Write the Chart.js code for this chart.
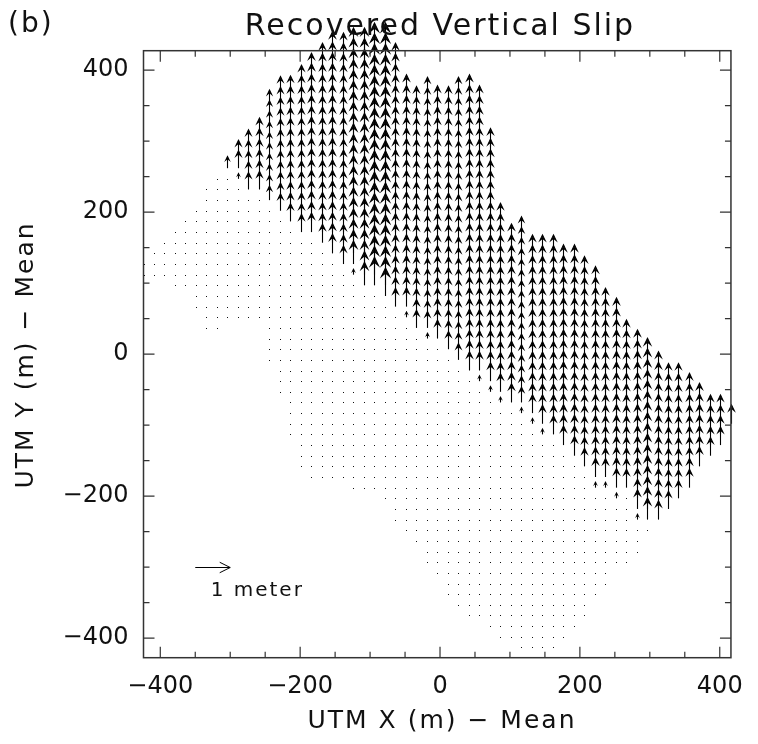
<!DOCTYPE html>
<html>
<head>
<meta charset="utf-8">
<script src="https://cdn.jsdelivr.net/npm/chart.js@4.4.1/dist/chart.umd.min.js"></script>
<style>
  html, body { margin: 0; padding: 0; background: #fff; }
</style>
</head>
<body>
<canvas id="slipChart" width="758" height="744"></canvas>
<script>
// grid columns, UTM X - mean (m)
const colX = [-424, -409, -394, -379, -364, -349, -334, -319, -304, -289, -274, -259, -244, -229, -214, -199, -184, -169, -154, -139,
  -124, -109, -94, -79, -64, -49, -34, -19, -4, 11, 26, 41, 56, 71, 86, 101, 116, 131, 146, 161,
  176, 191, 206, 221, 236, 251, 266, 281, 296, 311, 326, 341, 356, 371, 386, 401, 416];
// lowest and highest grid row of each column, UTM Y - mean (m)
const colBottom = [112, 112, 112, 97, 97, 67, 37, 37, 52, 52, 52, 52, -8, -53, -113, -158, -173, -173, -173, -173,
  -188, -188, -188, -203, -233, -248, -263, -293, -308, -338, -353, -368, -368, -383, -398, -398, -413, -413, -413, -413,
  -398, -383, -368, -338, -323, -293, -293, -278, -248, -233, -218, -203, -188, -158, -143, -128, -98];
const colTop = [127, 142, 157, 172, 187, 202, 232, 247, 262, 277, 292, 307, 352, 367, 367, 382, 397, 412, 427, 427,
  427, 427, 427, 427, 412, 367, 352, 367, 352, 352, 367, 367, 352, 292, 187, 157, 172, 142, 142, 142,
  127, 127, 112, 97, 67, 52, 22, 7, -8, -23, -38, -38, -53, -68, -83, -83, -98];
// first row carrying the slip arrows (null = column has no slip)
const colArrowFrom = [null, null, null, null, null, null, null, null, 262, 262, 232, 232, 217, 202, 187, 172, 172, 157, 142, 127,
  127, 97, 97, 82, 67, 67, 37, 37, 22, 7, -8, -23, -23, -38, -53, -68, -68, -83, -98, -113,
  -128, -143, -158, -173, -173, -188, -188, -218, -233, -233, -218, -203, -188, -158, -143, -128, -98];
// vertical slip of the arrow rows (m)
const colSlip = [0, 0, 0, 0, 0, 0, 0, 0, 0.33, 0.49, 0.48, 0.51, 0.4, 0.48, 0.5, 0.5, 0.54, 0.52, 0.54, 0.51,
  0.65, 0.65, 0.79, 0.79, 0.52, 0.53, 0.5, 0.46, 0.52, 0.5, 0.46, 0.53, 0.52, 0.52, 0.51, 0.53, 0.43, 0.52, 0.52, 0.52,
  0.54, 0.54, 0.51, 0.53, 0.52, 0.54, 0.52, 0.54, 0.61, 0.53, 0.5, 0.5, 0.52, 0.54, 0.51, 0.51, 0.53];
// rows with a small transitional slip just below the arrows
const colTee = [null, null, null, null, null, null, null, null, null, 247, null, null, null, null, null, null, null, null, null, null,
  112, null, null, null, null, 52, null, 22, null, null, null, null, -38, -53, -68, null, -83, -98, -113, null,
  null, null, null, -188, -188, -203, null, -233, null, null, null, null, null, null, null, null, null];
const teeSlip = 0.15;

const rowStep = 15;
const xTicks = [-400, -200, 0, 200, 400];
const yTicks = [-400, -200, 0, 200, 400];
const minorTicks = [-400, -350, -300, -250, -200, -150, -100, -50, 0, 50, 100, 150, 200, 250, 300, 350, 400];
const refArrow = { x: -350, y: -300, slip: 1, label: '1 meter' };
const metersPerSlip = 50; // 1 m of slip drawn as 50 m of map length

const points = [];
colX.forEach((x, i) => {
  for (let y = colBottom[i]; y <= colTop[i]; y += rowStep) {
    let s = 0;
    if (colArrowFrom[i] !== null && y >= colArrowFrom[i]) s = colSlip[i];
    else if (colTee[i] === y) s = teeSlip;
    points.push({ x: x, y: y, s: s });
  }
});

const FONT = '"DejaVu Sans", sans-serif';
const minus = v => (v < 0 ? '\u2212' + Math.abs(v) : String(v));

// shaft plus head; filled=true gives the small solid heads of the slip field
function drawArrow(ctx, x0, y0, x1, y1, filled) {
  const dx = x1 - x0, dy = y1 - y0;
  const len = Math.hypot(dx, dy);
  const ux = dx / len, uy = dy / len;
  const h = len * 0.3, w = h * (filled ? 0.48 : 0.5);
  ctx.beginPath();
  ctx.moveTo(x0, y0);
  ctx.lineTo(x1, y1);
  ctx.stroke();
  ctx.beginPath();
  ctx.moveTo(x1 - ux * h - uy * w, y1 - uy * h + ux * w);
  ctx.lineTo(x1, y1);
  ctx.lineTo(x1 - ux * h + uy * w, y1 - uy * h - ux * w);
  if (filled) {
    ctx.lineTo(x1 - ux * h * 0.6, y1 - uy * h * 0.6);
    ctx.closePath();
    ctx.fill();
  }
  ctx.stroke();
}

const quiverPlugin = {
  id: 'quiver',
  afterDatasetsDraw(chart) {
    const { ctx, scales: { x, y } } = chart;
    ctx.save();
    ctx.strokeStyle = '#000';
    ctx.fillStyle = '#111';
    ctx.lineWidth = 1.1;
    chart.data.datasets[0].data.forEach(p => {
      const px = Math.round(x.getPixelForValue(p.x)) + 0.5;
      const py = y.getPixelForValue(p.y);
      if (p.s === 0) {
        ctx.fillRect(px - 0.5, Math.round(py), 1, 1);
        return;
      }
      drawArrow(ctx, px, py, px, y.getPixelForValue(p.y + p.s * metersPerSlip), true);
    });
    // reference arrow
    ctx.lineWidth = 1;
    const ry = Math.round(y.getPixelForValue(refArrow.y)) + 0.5;
    drawArrow(ctx, x.getPixelForValue(refArrow.x), ry,
      x.getPixelForValue(refArrow.x + refArrow.slip * metersPerSlip), ry, false);
    ctx.restore();
  },
  afterDraw(chart) {
    const { ctx, chartArea: a, scales: { x, y } } = chart;
    ctx.save();
    // frame with inward ticks on all sides
    ctx.strokeStyle = '#333';
    ctx.lineWidth = 1.5;
    ctx.strokeRect(a.left, a.top, a.right - a.left, a.bottom - a.top);
    ctx.lineWidth = 1.2;
    ctx.beginPath();
    minorTicks.forEach(v => {
      const len = v % 200 === 0 ? 11 : 6;
      const px = x.getPixelForValue(v);
      ctx.moveTo(px, a.bottom); ctx.lineTo(px, a.bottom - len);
      ctx.moveTo(px, a.top); ctx.lineTo(px, a.top + len);
      const py = y.getPixelForValue(v);
      ctx.moveTo(a.left, py); ctx.lineTo(a.left + len, py);
      ctx.moveTo(a.right, py); ctx.lineTo(a.right - len, py);
    });
    ctx.stroke();

    ctx.fillStyle = '#111';
    ctx.letterSpacing = '2px';
    ctx.textBaseline = 'alphabetic';
    ctx.textAlign = 'left';
    ctx.font = '28px ' + FONT;
    ctx.fillText('(b)', 8, 32);
    ctx.textAlign = 'center';
    ctx.font = '30px ' + FONT;
    ctx.fillText('Recovered Vertical Slip', 440, 35);
    ctx.font = '25px ' + FONT;
    ctx.textBaseline = 'middle';
    ctx.fillText('UTM X (m) \u2212 Mean', 442, 721);
    ctx.save();
    ctx.translate(26, 355);
    ctx.rotate(-Math.PI / 2);
    ctx.fillText('UTM Y (m) \u2212 Mean', 0, 0);
    ctx.restore();
    ctx.textAlign = 'left';
    ctx.textBaseline = 'alphabetic';
    ctx.font = '20px ' + FONT;
    ctx.fillText(refArrow.label, x.getPixelForValue(-328), 596);
    ctx.restore();
  }
};

new Chart(document.getElementById('slipChart'), {
  type: 'scatter',
  data: {
    datasets: [{ data: points, pointRadius: 0, showLine: false }]
  },
  options: {
    responsive: false,
    devicePixelRatio: 1,
    animation: false,
    layout: { padding: { top: 50.7, right: 18, left: 0, bottom: 0 } },
    plugins: { legend: { display: false }, tooltip: { enabled: false } },
    scales: {
      x: {
        type: 'linear',
        min: -424,
        max: 416,
        afterBuildTicks: s => { s.ticks = xTicks.map(v => ({ value: v })); },
        afterFit: s => { s.height = 86.3; },
        grid: { display: false, drawTicks: false },
        border: { display: false },
        ticks: { padding: 15, color: '#111', font: { family: FONT, size: 24 }, callback: minus, maxRotation: 0 }
      },
      y: {
        type: 'linear',
        min: -427.5,
        max: 427.5,
        afterBuildTicks: s => { s.ticks = yTicks.map(v => ({ value: v })); },
        afterFit: s => { s.width = 143.5; },
        grid: { display: false, drawTicks: false },
        border: { display: false },
        ticks: { padding: 15, color: '#111', font: { family: FONT, size: 24 }, callback: minus }
      }
    }
  },
  plugins: [quiverPlugin]
});
</script>
</body>
</html>
